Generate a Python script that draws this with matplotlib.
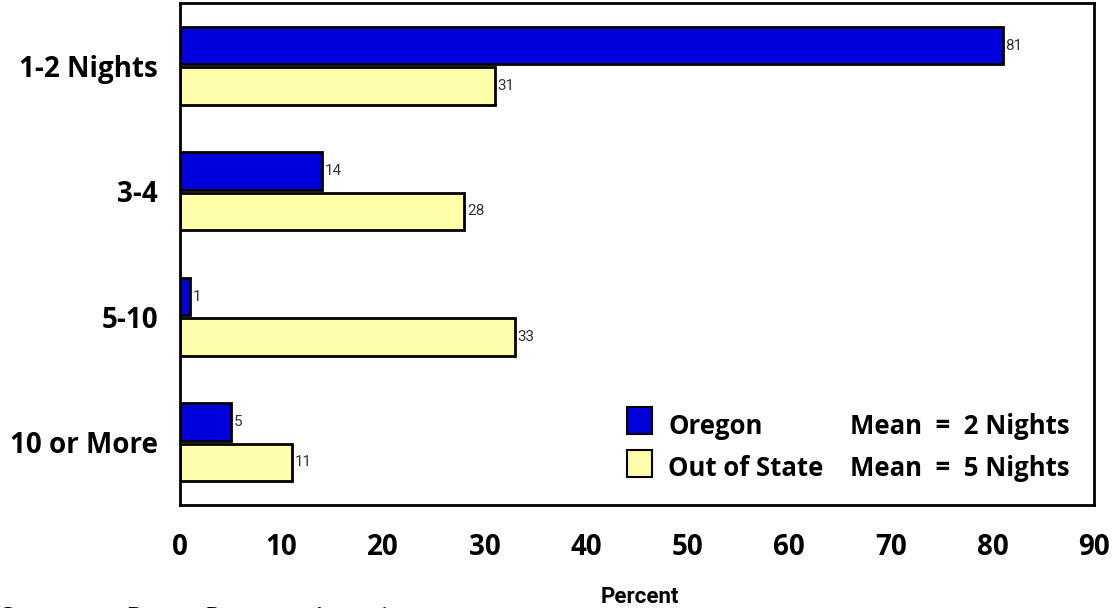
import matplotlib
matplotlib.use("Agg")
import matplotlib.pyplot as plt
import numpy as np
from matplotlib.patches import Rectangle

categories = ["1-2 Nights", "3-4", "5-10", "10 or More"]
oregon = [81, 14, 1, 5]
out_of_state = [31, 28, 33, 11]
xticks = [0, 10, 20, 30, 40, 50, 60, 70, 80, 90]

plt.rcParams['font.family'] = ['Open Sans', 'DejaVu Sans']

fig = plt.figure(figsize=(11.15, 6.08), dpi=100)
ax = fig.add_axes([180/1115, 1-505/608, (1094-180)/1115, (505-3)/608])

y = np.arange(len(categories))
h = 0.3
ax.barh(y - h/2 - 0.01, oregon, height=h, color='#0000DD', edgecolor='black', linewidth=2, label='Oregon')
ax.barh(y + h/2 + 0.01, out_of_state, height=h, color='#FFFFAA', edgecolor='black', linewidth=2, label='Out of State')

for yi, v in zip(y, oregon):
    ax.text(v + 0.25, yi - h/2 - 0.01, str(v), va='center', ha='left', fontsize=11, color='#333333', family='Roboto')
for yi, v in zip(y, out_of_state):
    ax.text(v + 0.25, yi + h/2 + 0.01, str(v), va='center', ha='left', fontsize=11, color='#333333', family='Roboto')

ax.set_xlim(0, 90)
ax.set_ylim(3.5, -0.5)
ax.set_yticks(y)
ax.set_yticklabels(categories, fontsize=20, fontweight='bold')
ax.set_xticks(xticks)
ax.set_xticklabels([str(t) for t in xticks], fontsize=20, fontweight='bold')
ax.tick_params(axis='y', length=0, pad=16)
ax.tick_params(axis='x', length=0, pad=20)
for s in ax.spines.values():
    s.set_linewidth(2)

fig.text(640/1115, 1-603/608, "Percent", fontsize=16, fontweight='bold', ha='center',
         va='baseline', family=['Roboto', 'DejaVu Sans'])

# legend
fig.patches.append(Rectangle((627/1115, 1-434/608), 25/1115, 27/608, transform=fig.transFigure,
                             facecolor='#0000DD', edgecolor='black', linewidth=1.5))
fig.patches.append(Rectangle((627/1115, 1-477/608), 25/1115, 27/608, transform=fig.transFigure,
                             facecolor='#FFFFAA', edgecolor='black', linewidth=1.5))
fig.text(668/1115, 1-427/608, "Oregon", fontsize=18.5, fontweight='bold', va='center')
fig.text(668/1115, 1-469/608, "Out of State", fontsize=18.5, fontweight='bold', va='center')
fig.text(850/1115, 1-427/608, "Mean  =  2 Nights", fontsize=18.5, fontweight='bold', va='center')
fig.text(850/1115, 1-469/608, "Mean  =  5 Nights", fontsize=18.5, fontweight='bold', va='center')

fig.text(0, 1-625/608, "Source:     Dean  Runyan  Associates", fontsize=19, va='baseline')

fig.savefig("out.png", dpi=100)
